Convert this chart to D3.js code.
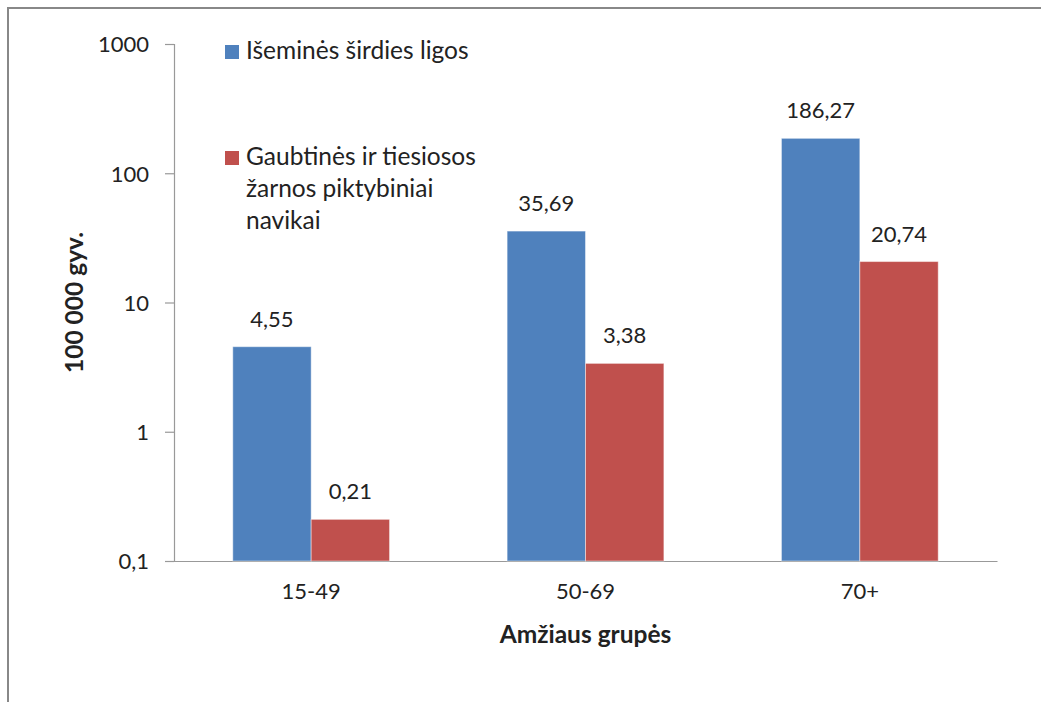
<!DOCTYPE html>
<html>
<head>
<meta charset="utf-8">
<script src="https://cdn.jsdelivr.net/npm/d3@7"></script>
<style>
    body { margin: 0; background: #fff; }
    text { font-family: Lato, "Open Sans", sans-serif; fill: #222; }
</style>
</head>
<body>
<svg id="chart" width="1041" height="702"></svg>
<script>
const groups = ["15-49", "50-69", "70+"];
const seriesNames = ["Išeminės širdies ligos", "Gaubtinės ir tiesiosos žarnos piktybiniai navikai"];
const heartValues = [4.55, 35.69, 186.27];
const colonValues = [0.21, 3.38, 20.74];
const yTicks = [0.1, 1, 10, 100, 1000];
const colors = ["#4F81BD", "#C0504D"];

const svg = d3.select("#chart");
const margin = {left: 174, right: 44, top: 44, bottom: 141};
const width = +svg.attr("width");
const height = +svg.attr("height");

// outer frame, cut by the window on the right and at the bottom
svg.append("rect")
    .attr("x", 8).attr("y", 8)
    .attr("width", 1060).attr("height", 720)
    .attr("fill", "none")
    .attr("stroke", "#888")
    .attr("stroke-width", 2);

const x0 = d3.scaleBand()
    .domain(groups)
    .range([margin.left, width - margin.right]);

const x1 = d3.scaleBand()
    .domain([0, 1])
    .range([0, x0.bandwidth()])
    .paddingOuter(0.75)
    .paddingInner(0);

const y = d3.scaleLog()
    .domain([0.1, 1000])
    .range([height - margin.bottom, margin.top]);

const fmt = v => String(v).replace(".", ",");

// y axis
const yAxis = svg.append("g")
    .attr("transform", `translate(${margin.left},0)`)
    .call(d3.axisLeft(y).tickValues(yTicks).tickFormat(fmt).tickSize(9).tickPadding(16));
yAxis.select(".domain").attr("stroke", "#999").attr("stroke-width", 1.2);
yAxis.selectAll(".tick line").attr("stroke", "#999").attr("stroke-width", 1.2);
yAxis.selectAll(".tick text")
    .attr("font-family", "Lato, sans-serif")
    .attr("font-size", 22)
    .attr("fill", "#222")
    .attr("dy", "0.36em");

// x axis
const xAxis = svg.append("g")
    .attr("transform", `translate(0,${height - margin.bottom})`)
    .call(d3.axisBottom(x0).tickSize(0).tickPadding(22));
xAxis.select(".domain").attr("stroke", "#999").attr("stroke-width", 1.2);
xAxis.selectAll(".tick text")
    .attr("font-family", "Lato, sans-serif")
    .attr("font-size", 22)
    .attr("fill", "#222");

// bars
const rows = groups.map((g, i) => ({group: g, values: [heartValues[i], colonValues[i]]}));
const bar = svg.append("g").selectAll("g")
    .data(rows)
    .join("g")
    .attr("transform", d => `translate(${x0(d.group)},0)`);

bar.selectAll("rect")
    .data(d => d.values.map((v, k) => ({k, v})))
    .join("rect")
    .attr("x", d => x1(d.k))
    .attr("width", x1.bandwidth())
    .attr("y", d => y(d.v))
    .attr("height", d => y(0.1) - y(d.v))
    .attr("fill", d => colors[d.k])
    .attr("stroke", "rgba(255,255,255,0.45)")
    .attr("stroke-width", 1);

bar.selectAll("text")
    .data(d => d.values.map((v, k) => ({k, v})))
    .join("text")
    .attr("x", d => x1(d.k) + x1.bandwidth() / 2)
    .attr("y", d => y(d.v) - 20)
    .attr("text-anchor", "middle")
    .attr("font-size", 22)
    .text(d => fmt(d.v));

// axis titles
svg.append("text")
    .attr("x", (margin.left + width - margin.right) / 2)
    .attr("y", 643)
    .attr("text-anchor", "middle")
    .attr("font-size", 24.5)
    .attr("font-weight", "bold")
    .text("Amžiaus grupės");

svg.append("text")
    .attr("transform", `translate(83,${(margin.top + height - margin.bottom) / 2}) rotate(-90)`)
    .attr("text-anchor", "middle")
    .attr("font-size", 24.5)
    .attr("font-weight", "bold")
    .text("100 000 gyv.");

// legend
const legendLines = [["Išeminės širdies ligos"], ["Gaubtinės ir tiesiosos", "žarnos piktybiniai", "navikai"]];
const legend = svg.append("g")
    .selectAll("g")
    .data(seriesNames)
    .join("g")
    .attr("transform", (d, i) => `translate(225,${i === 0 ? 45 : 151})`);

legend.append("rect")
    .attr("width", 14).attr("height", 14)
    .attr("fill", (d, i) => colors[i]);

legend.append("text")
    .attr("x", 21)
    .attr("y", 14)
    .attr("font-size", 24.5)
    .selectAll("tspan")
    .data((d, i) => legendLines[i])
    .join("tspan")
    .attr("x", 21)
    .attr("dy", (d, j) => j === 0 ? 0 : 32)
    .text(d => d);
</script>
</body>
</html>
